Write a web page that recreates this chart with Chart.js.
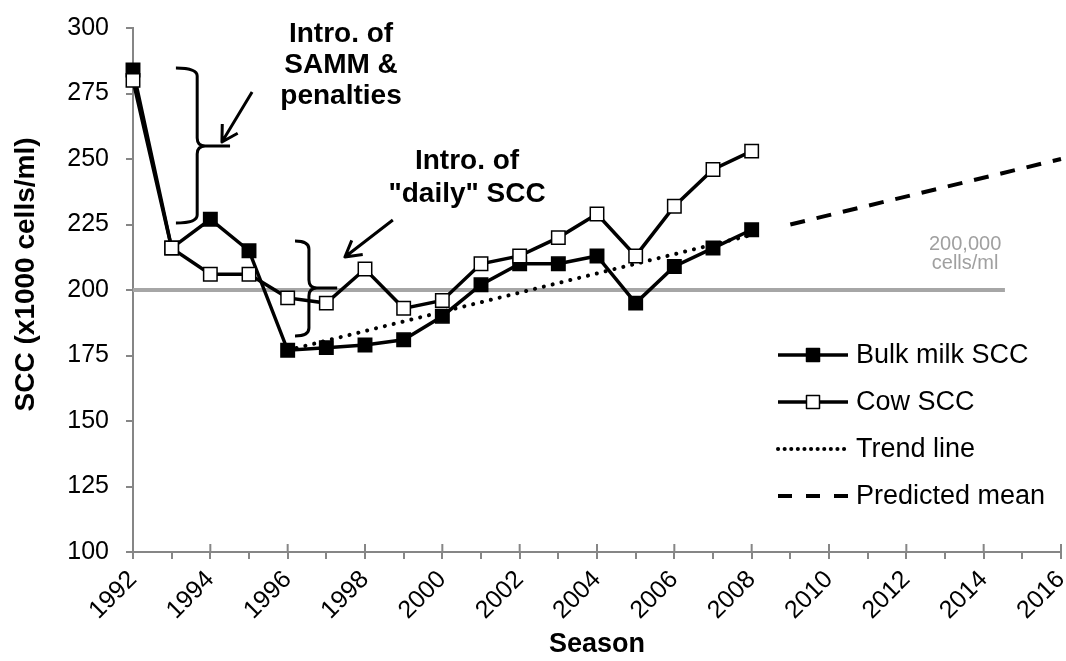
<!DOCTYPE html>
<html>
<head>
<meta charset="utf-8">
<script src="https://cdn.jsdelivr.net/npm/chart.js@4.4.1/dist/chart.umd.min.js"></script>
<style>
  html, body { margin: 0; padding: 0; background: #fff; }
</style>
</head>
<body>
<canvas id="sccChart" width="1066" height="661"></canvas>
<script>
const seasons = [1992, 1993, 1994, 1995, 1996, 1997, 1998, 1999, 2000, 2001, 2002, 2003, 2004, 2005, 2006, 2007, 2008];
const bulkSCC = [284, 216, 227, 215, 177, 178, 179, 181, 190, 202, 210, 210, 213, 195, 209, 216, 223];
const cowSCC = [280, 216, 206, 206, 197, 195, 208, 193, 196, 210, 213, 220, 229, 213, 232, 246, 253];

const trendSeasons = [1996, 2008];
const trendValues = [177, 221];

const predictedSeasons = [2009, 2016];
const predictedValues = [225, 250];

const limitSeasons = [1992, 2014.55];
const limitValues = [200, 200];

const xRange = [1992, 2016];
const yRange = [100, 300];
const yStep = 25;

// notes drawn on top, kept in data units so they follow the scales
const brackets = [
  { tipX: 1993.11, spineX: 1993.66, nubX: 1994.51, top: 284.7, mid: 255, bottom: 225.6 },
  { tipX: 1996.19, spineX: 1996.55, nubX: 1997.28, top: 218.7, mid: 200.8, bottom: 182.4 },
];
const arrows = [
  { from: [1995.08, 275.6], to: [1994.3, 256.5] },
  { from: [1998.72, 226.7], to: [1997.48, 212.6] },
];
const notes = [
  { x: 1997.38, y: 298.5, text: "Intro. of" },
  { x: 1997.38, y: 286.6, text: "SAMM &" },
  { x: 1997.38, y: 274.8, text: "penalties" },
  { x: 2000.64, y: 250, text: "Intro. of" },
  { x: 2000.64, y: 237.4, text: '"daily" SCC' },
];
const limitLabel = [
  { x: 2013.52, y: 217.9, text: "200,000" },
  { x: 2013.52, y: 210.7, text: "cells/ml" },
];

const FONT = "'Liberation Sans', Arial, sans-serif";
const AXIS_GREY = "#868686";

Chart.defaults.font.family = FONT;

const toPoints = (xs, ys) => xs.map((x, i) => ({ x: x, y: ys[i] }));

const drawBracket = (ctx, xs, ys, b) => {
  const tip = xs.getPixelForValue(b.tipX);
  const spine = xs.getPixelForValue(b.spineX);
  const nub = xs.getPixelForValue(b.nubX);
  const top = ys.getPixelForValue(b.top);
  const mid = ys.getPixelForValue(b.mid);
  const bot = ys.getPixelForValue(b.bottom);
  const r = 8;
  ctx.beginPath();
  ctx.moveTo(tip, top);
  ctx.quadraticCurveTo(spine, top, spine, top + r);
  ctx.lineTo(spine, mid - r);
  ctx.quadraticCurveTo(spine, mid, spine + r, mid);
  ctx.lineTo(nub, mid);
  ctx.moveTo(spine + r, mid);
  ctx.quadraticCurveTo(spine, mid, spine, mid + r);
  ctx.lineTo(spine, bot - r);
  ctx.quadraticCurveTo(spine, bot, tip, bot);
  ctx.stroke();
};

const drawArrow = (ctx, xs, ys, a) => {
  const x1 = xs.getPixelForValue(a.from[0]);
  const y1 = ys.getPixelForValue(a.from[1]);
  const x2 = xs.getPixelForValue(a.to[0]);
  const y2 = ys.getPixelForValue(a.to[1]);
  const ang = Math.atan2(y2 - y1, x2 - x1);
  const len = 18;
  const spread = Math.PI / 6;
  ctx.beginPath();
  ctx.moveTo(x1, y1);
  ctx.lineTo(x2, y2);
  ctx.moveTo(x2 - len * Math.cos(ang - spread), y2 - len * Math.sin(ang - spread));
  ctx.lineTo(x2, y2);
  ctx.lineTo(x2 - len * Math.cos(ang + spread), y2 - len * Math.sin(ang + spread));
  ctx.stroke();
};

const drawSquare = (ctx, x, y, side, fill) => {
  ctx.fillStyle = fill;
  ctx.fillRect(x - side / 2, y - side / 2, side, side);
  ctx.lineWidth = 1.5;
  ctx.strokeStyle = "#000";
  ctx.strokeRect(x - side / 2, y - side / 2, side, side);
};

const notesPlugin = {
  id: "notes",
  afterDatasetsDraw(chart) {
    const ctx = chart.ctx;
    const xs = chart.scales.x;
    const ys = chart.scales.y;
    const area = chart.chartArea;

    ctx.save();
    ctx.strokeStyle = "#000";
    ctx.lineWidth = 3;
    ctx.lineCap = "butt";
    ctx.lineJoin = "round";
    brackets.forEach((b) => drawBracket(ctx, xs, ys, b));
    arrows.forEach((a) => drawArrow(ctx, xs, ys, a));

    ctx.fillStyle = "#000";
    ctx.font = "bold 28px " + FONT;
    ctx.textAlign = "center";
    ctx.textBaseline = "alphabetic";
    notes.forEach((n) => {
      ctx.fillText(n.text, xs.getPixelForValue(n.x), ys.getPixelForValue(n.y) + 10);
    });

    ctx.fillStyle = "#a0a0a0";
    ctx.font = "20px " + FONT;
    limitLabel.forEach((n) => {
      ctx.fillText(n.text, xs.getPixelForValue(n.x), ys.getPixelForValue(n.y) + 7);
    });

    // long ticks on even seasons cross the axis line
    ctx.strokeStyle = AXIS_GREY;
    ctx.lineWidth = 2;
    xs.ticks.forEach((t) => {
      if (t.value % 2 !== 0) return;
      const px = xs.getPixelForValue(t.value);
      ctx.beginPath();
      ctx.moveTo(px, area.bottom - 8);
      ctx.lineTo(px, area.bottom);
      ctx.stroke();
    });

    // legend, line sample with marker
    const lineStart = area.right - 283;
    const lineEnd = area.right - 213;
    const textX = area.right - 205;
    let rowY = area.top + 327;
    ctx.font = "27px " + FONT;
    ctx.textAlign = "left";
    ctx.textBaseline = "middle";
    chart.data.datasets.forEach((ds) => {
      if (!ds.inLegend) return;
      ctx.strokeStyle = ds.borderColor;
      ctx.lineWidth = ds.borderWidth;
      ctx.lineCap = ds.borderCapStyle || "butt";
      ctx.setLineDash(ds.legendDash || ds.borderDash || []);
      ctx.beginPath();
      ctx.moveTo(lineStart, rowY);
      ctx.lineTo(lineEnd, rowY);
      ctx.stroke();
      ctx.setLineDash([]);
      ctx.lineCap = "butt";
      if (ds.pointRadius > 0) {
        drawSquare(ctx, (lineStart + lineEnd) / 2, rowY, 13, ds.pointBackgroundColor);
      }
      ctx.fillStyle = "#000";
      ctx.fillText(ds.label, textX, rowY + 1);
      rowY += 47;
    });
    ctx.restore();
  },
};

const ctx = document.getElementById("sccChart").getContext("2d");
new Chart(ctx, {
  type: "line",
  data: {
    datasets: [
      {
        label: "Bulk milk SCC",
        data: toPoints(seasons, bulkSCC),
        borderColor: "#000",
        borderWidth: 3.5,
        pointStyle: "rect",
        pointRadius: 9.5,
        pointBackgroundColor: "#000",
        pointBorderColor: "#000",
        pointBorderWidth: 1.5,
        clip: false,
        order: 1,
        inLegend: true,
      },
      {
        label: "Cow SCC",
        data: toPoints(seasons, cowSCC),
        borderColor: "#000",
        borderWidth: 3.5,
        pointStyle: "rect",
        pointRadius: 9.5,
        pointBackgroundColor: "#fff",
        pointBorderColor: "#000",
        pointBorderWidth: 1.5,
        clip: false,
        order: 0,
        inLegend: true,
      },
      {
        label: "Trend line",
        data: toPoints(trendSeasons, trendValues),
        borderColor: "#000",
        borderWidth: 4,
        borderDash: [0.1, 9],
        borderCapStyle: "round",
        legendDash: [0.1, 6.5],
        pointRadius: 0,
        order: 2,
        inLegend: true,
      },
      {
        label: "Predicted mean",
        data: toPoints(predictedSeasons, predictedValues),
        borderColor: "#000",
        borderWidth: 4,
        borderDash: [15, 12],
        legendDash: [14, 14],
        pointRadius: 0,
        clip: false,
        order: 3,
        inLegend: true,
      },
      {
        label: "200,000 cells/ml",
        data: toPoints(limitSeasons, limitValues),
        borderColor: "#a6a6a6",
        borderWidth: 4,
        pointRadius: 0,
        order: 4,
        inLegend: false,
      },
    ],
  },
  options: {
    responsive: false,
    animation: false,
    devicePixelRatio: 1,
    events: [],
    layout: { autoPadding: false, padding: { top: 28, right: 5, bottom: 0, left: 0 } },
    plugins: {
      legend: { display: false },
      tooltip: { enabled: false },
    },
    scales: {
      x: {
        type: "linear",
        min: xRange[0],
        max: xRange[1],
        ticks: {
          stepSize: 1,
          autoSkip: false,
          minRotation: 45,
          maxRotation: 45,
          padding: 6,
          color: "#000",
          font: { size: 25 },
          callback: (v) => (v % 2 === 0 ? String(v) : ""),
        },
        grid: { drawOnChartArea: false, tickLength: 7, color: AXIS_GREY, lineWidth: 2 },
        border: { color: AXIS_GREY, width: 2 },
        title: {
          display: true,
          text: "Season",
          color: "#000",
          font: { size: 27, weight: "bold" },
          padding: 0,
        },
        afterFit: (s) => {
          s.height = 109;
          s.paddingLeft = 0;
          s.paddingRight = 0;
        },
      },
      y: {
        min: yRange[0],
        max: yRange[1],
        ticks: {
          stepSize: yStep,
          padding: 17,
          color: "#000",
          font: { size: 25 },
        },
        grid: { drawOnChartArea: false, tickLength: 7, color: AXIS_GREY, lineWidth: 2 },
        border: { color: AXIS_GREY, width: 2 },
        title: {
          display: true,
          // leading spaces lift the title a little, as in the source figure
          text: "    SCC (x1000 cells/ml)",
          color: "#000",
          font: { size: 28, weight: "bold" },
          padding: { top: 9, bottom: 0 },
        },
        afterFit: (s) => {
          s.width = 133;
          s.paddingTop = 0;
          s.paddingBottom = 0;
        },
      },
    },
  },
  plugins: [notesPlugin],
});
</script>
</body>
</html>
